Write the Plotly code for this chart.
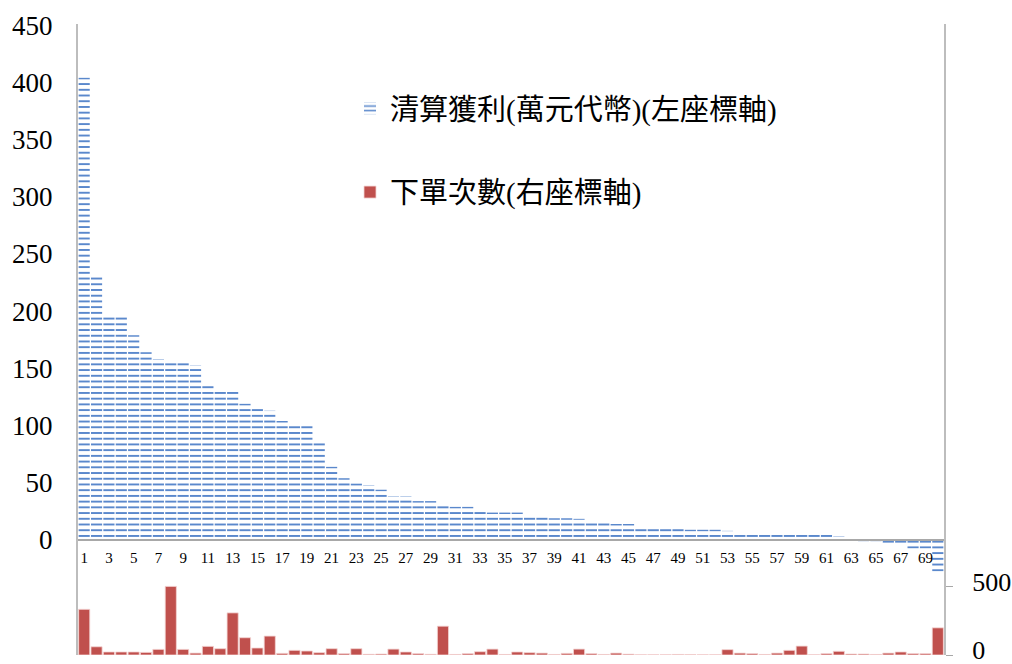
import plotly.graph_objects as go

# Rank of each account (1..70)
categories = list(range(1, 71))

# Settled profit, in 10k tokens (left axis)
profit = [404, 230, 195, 195, 179, 164, 158, 155, 155, 153,
          135, 130, 130, 119, 117, 113, 104, 100, 100, 85,
          64, 54, 49.5, 48, 44, 38, 38, 34, 34, 32,
          29, 29, 27, 24, 24, 24, 22, 21, 19, 19,
          18.5, 17, 17, 14, 14, 12, 12, 12, 12, 9,
          9, 9, 8, 7, 5, 5, 5, 5, 4.5, 4.5,
          4.5, 3, 0.5, -1, -1, -3, -3, -7.5, -7.5, -27.5]

# Number of orders placed (right axis)
orders = [333, 60, 22, 22, 22, 19, 41, 500, 41, 14,
          63, 46, 307, 126, 51, 138, 12, 34, 29, 17,
          46, 10, 46, 5, 7, 43, 22, 10, 5, 210,
          4, 10, 24, 43, 4, 22, 17, 14, 4, 12,
          43, 10, 4, 14, 6, 2, 2, 2, 4, 3,
          2, 2, 39, 14, 10, 4, 14, 34, 65, 2,
          10, 27, 7, 7, 4, 14, 22, 10, 10, 198]

left_ticks = [0, 50, 100, 150, 200, 250, 300, 350, 400, 450]
right_ticks = [0, 500]
x_ticks = [c for c in categories if c % 2 == 1]
x_ticktext = [str(c) for c in x_ticks]

name_profit = "清算獲利(萬元代幣)(左座標軸)"
name_orders = "下單次數(右座標軸)"

left_range = [-100.5, 451]
right_range = [0, 4600]

serif = "Liberation Serif, Times New Roman, Noto Sans CJK TC, serif"
axis_grey = "#BDBDBD"

fig = go.Figure()

fig.add_trace(go.Bar(
    x=categories, y=profit, name=name_profit, yaxis="y",
    legendgroup="profit",
    marker=dict(
        color="rgba(255,255,255,0)",
        line=dict(width=0),
        pattern=dict(shape="-", size=5.72, solidity=0.34,
                     fgcolor="#5A88CC", fgopacity=1,
                     bgcolor="rgba(255,255,255,0)"),
    ),
))

fig.add_trace(go.Bar(
    x=categories, y=orders, name=name_orders, yaxis="y2",
    legendgroup="orders",
    marker=dict(color="#C0504D", line=dict(color="#F4D4D3", width=0.8)),
))

x_axis_pos = (0 - left_range[0]) / (left_range[1] - left_range[0])

fig.update_layout(
    width=1012, height=664,
    margin=dict(l=78, r=68, t=24, b=9, autoexpand=False),
    paper_bgcolor="white", plot_bgcolor="white",
    barmode="overlay", bargap=0.1,
    font=dict(family=serif, color="black"),
    showlegend=True,
    legend=dict(
        x=(350 - 78) / 866, xanchor="left",
        y=(655 - 83) / 631, yanchor="top",
        traceorder="grouped", tracegroupgap=43,
        font=dict(family=serif, size=29, color="black"),
        bgcolor="rgba(255,255,255,0)", borderwidth=0,
    ),
    xaxis=dict(
        range=[0.5, 70.5],
        anchor="free", position=x_axis_pos,
        showline=True, linecolor="#A8A8A8", linewidth=1.5,
        showgrid=False, zeroline=False, automargin=False,
        tickmode="array", tickvals=x_ticks, ticktext=x_ticktext,
        ticks="", ticklabelstandoff=4,
        tickfont=dict(family=serif, size=15, color="black"),
    ),
    yaxis=dict(
        range=left_range,
        showline=True, linecolor=axis_grey, linewidth=2,
        showgrid=False, zeroline=False, automargin=False,
        tickmode="array", tickvals=left_ticks,
        ticks="", ticklabelstandoff=18,
        tickfont=dict(family=serif, size=27, color="black"),
    ),
    yaxis2=dict(
        range=right_range, overlaying="y", side="right",
        showline=True, linecolor=axis_grey, linewidth=2,
        showgrid=False, zeroline=False, automargin=False,
        tickmode="array", tickvals=right_ticks,
        ticks="outside", ticklen=7, tickcolor="#A8A8A8", tickwidth=1,
        ticklabelstandoff=14, ticklabelshift=-5, ticklabeloverflow="allow",
        tickfont=dict(family=serif, size=26, color="black"),
    ),
)

fig.write_html("out.html")
